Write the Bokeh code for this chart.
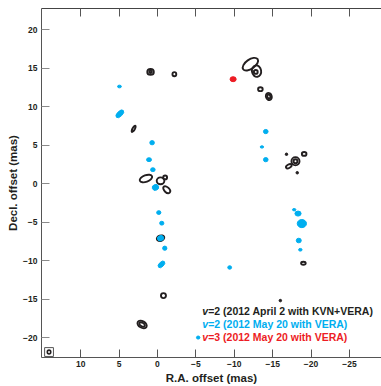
from bokeh.plotting import figure
from bokeh.models import Range1d, FixedTicker, LinearAxis
from bokeh.core.properties import value
from bokeh.embed import file_html
from bokeh.resources import INLINE
import numpy as np

# ---- data (mas) ----
# v=2 April 2 (KVN+VERA) contour rings: x, y, width, height, angle(deg)
k_x = [0.9, 0.9, -2.2, 3.1, 1.5, -0.4, -1.0, -1.2, -12.1, -12.9, -12.8, -13.4, -14.5, -14.5,
       -17.97, -17.97, -19.1, -17.1, -19.0, -0.4, -0.78, 2.0, 2.0]
k_y = [14.5, 14.5, 14.2, 7.1, 0.65, 0.35, 0.8, -0.8, 15.5, 14.6, 14.5, 12.25, 11.3, 11.3,
       2.9, 2.9, 3.85, 2.25, -10.35, -7.1, -14.55, -18.3, -18.3]
k_w = [0.85, 0.35, 0.5, 0.3, 1.7, 1.0, 0.5, 1.1, 2.3, 1.2, 0.5, 0.6, 0.75, 0.4,
       1.05, 0.5, 0.6, 0.8, 0.6, 1.0, 0.65, 1.3, 0.8]
k_h = [0.75, 0.3, 0.55, 0.9, 0.85, 0.9, 0.5, 0.65, 1.2, 1.5, 0.5, 0.5, 0.95, 0.5,
       1.05, 0.5, 0.5, 0.45, 0.4, 0.7, 0.65, 0.85, 0.45]
k_a = [0, 0, 0, -30, 20, 0, 0, -45, 35, 10, 0, 0, 20, 20,
       0, 0, 0, 30, 0, 20, 0, -30, -30]
# unresolved small spots (April 2)
d_x = [-16.8, -18.2, -16.0]
d_y = [3.8, 1.4, -15.2]

# v=2 May 20 (VERA) spots
c_x = [4.95, 4.9, 0.7, 1.1, 0.6, 0.26, -14.1, -13.6, -14.1, -17.8, -18.3, -18.8, -18.4,
       -18.6, -9.4, -0.17, -0.56, -0.4, -0.95, -0.52, -5.3]
c_y = [12.6, 9.05, 5.3, 3.1, 1.8, -0.5, 6.75, 4.75, 3.1, -3.4, -3.9, -5.2, -7.4,
       -8.6, -10.9, -3.77, -5.15, -7.1, -8.4, -10.5, -20.0]
c_w = [0.5, 1.25, 0.6, 0.65, 0.6, 0.85, 0.6, 0.45, 0.6, 0.45, 0.8, 1.2, 0.65,
       0.45, 0.5, 0.55, 0.55, 0.85, 0.55, 1.05, 0.45]
c_h = [0.35, 0.65, 0.55, 0.5, 0.5, 0.75, 0.55, 0.3, 0.55, 0.3, 0.65, 1.05, 0.6,
       0.35, 0.45, 0.5, 0.5, 0.7, 0.55, 0.6, 0.4]
c_a = [0, 45, 0, 0, 0, 20, 0, 0, 0, 0, 0, 0, 0, 0, 0, 0, 0, 20, 0, 45, 0]

# v=3 May 20 (VERA) spot
r_x = [-9.85]
r_y = [13.55]
r_w = [0.8]
r_h = [0.65]

x_ticks = [-30, -25, -20, -15, -10, -5, 0, 5, 10]
y_ticks = [-20, -15, -10, -5, 0, 5, 10, 15, 20]
legend_lines = ["=2 (2012 April 2 with KVN+VERA)", "=2 (2012 May 20 with VERA)", "=3 (2012 May 20 with VERA)"]
legend_colors = ["#231f20", "#00aeef", "#ed1c24"]

CYAN = "#00aeef"
RED = "#ed1c24"
FONT = "Liberation Sans"

p = figure(width=381, height=386, output_backend="svg", toolbar_location=None,
           x_range=Range1d(15.1, -29.17), y_range=Range1d(-22.59, 22.73),
           min_border_left=41, min_border_right=0, min_border_top=8, min_border_bottom=29)
p.outline_line_color = None
p.xgrid.visible = False
p.ygrid.visible = False
p.background_fill_color = "white"

for ax, tk in ((p.xaxis[0], x_ticks), (p.yaxis[0], y_ticks)):
    ax.ticker = FixedTicker(ticks=tk)
    ax.minor_tick_line_color = None
    ax.major_tick_in = 8
    ax.major_tick_out = 0
    ax.major_tick_line_color = "#8a8a8a"
    ax.axis_line_color = "#555555"
    ax.major_label_text_font = FONT
    ax.major_label_text_font_style = "bold"
    ax.major_label_text_font_size = "8.5px"
    ax.major_label_text_color = "#231f20"
    ax.axis_label_text_font = FONT
    ax.axis_label_text_font_style = "bold"
    ax.axis_label_text_font_size = "11.5px"
    ax.axis_label_text_color = "#231f20"
p.xaxis[0].axis_label = "R.A. offset (mas)"
p.yaxis[0].axis_label = "Decl. offset (mas)"
p.xaxis[0].major_label_standoff = 3
p.xaxis[0].axis_label_standoff = 2
p.yaxis[0].major_label_standoff = 4
p.yaxis[0].axis_label_standoff = 1
p.xaxis[0].major_tick_line_color = "#555555"

top = LinearAxis(ticker=FixedTicker(ticks=x_ticks), major_tick_in=8, major_tick_out=0,
                 minor_tick_line_color=None, major_label_overrides={t: "" for t in x_ticks},
                 major_label_standoff=0, axis_line_color="#444444",
                 major_tick_line_color="#555555")
p.add_layout(top, "above")

# contours
p.ellipse(x=k_x, y=k_y, width=k_w, height=k_h, angle=np.radians(k_a), fill_color=None,
          line_color="#231f20", line_width=1.9)
p.scatter(x=d_x, y=d_y, size=2.5, color="#231f20")

# VERA v=2 spots
p.ellipse(x=c_x, y=c_y, width=c_w, height=c_h, angle=np.radians(c_a), fill_color=CYAN,
          line_color=CYAN, line_width=1)
# v=3
p.ellipse(x=r_x, y=r_y, width=r_w, height=r_h, fill_color=RED, line_color=RED, line_width=1)

# beam box
p.rect(x=[14.12], y=[-21.88], width=1.15, height=1.15, fill_color=None, line_color="#555555", line_width=1)
p.ellipse(x=[14.12], y=[-21.88], width=0.45, height=0.5, fill_color=None, line_color="#231f20", line_width=1.6)

# legend text
ly = [-16.58, -18.22, -19.96]
lx = [-5.82] * 3
p.text(x=lx, y=ly, text=["v"] * 3, text_color=legend_colors, text_font=value(FONT),
       text_font_style="bold italic", text_font_size="10.5px", text_baseline="middle", text_align="left")
p.text(x=lx, y=ly, text=legend_lines, text_color=legend_colors, text_font=value(FONT), x_offset=6,
       text_font_style="bold", text_font_size="10.5px", text_baseline="middle", text_align="left")

open("out.html", "w").write(file_html(p, INLINE))
